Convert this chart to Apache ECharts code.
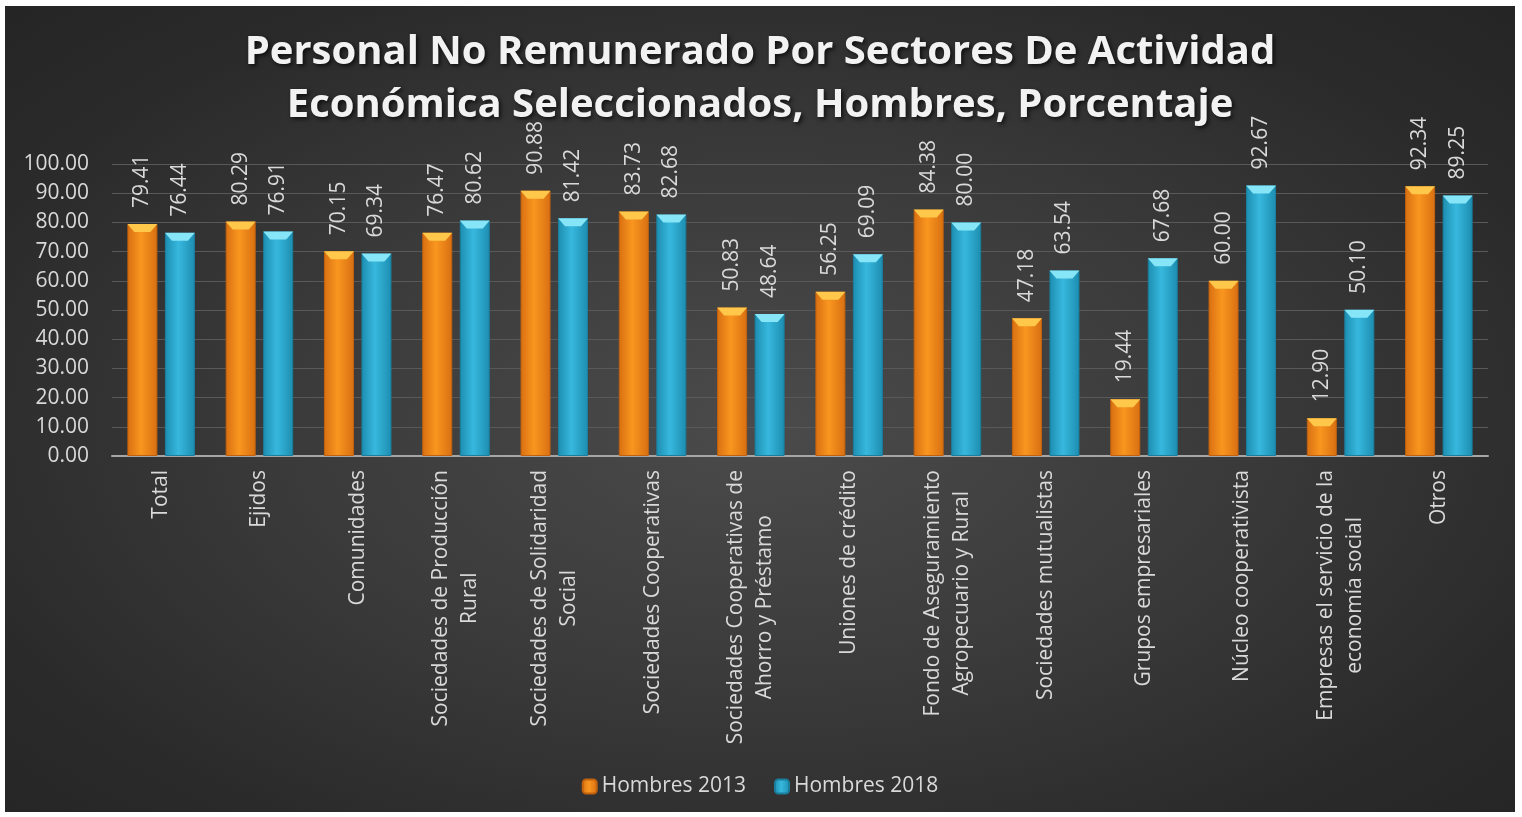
<!DOCTYPE html>
<html lang="es">
<head>
    <meta charset="UTF-8">
    <title>Personal No Remunerado - Hombres</title>
    <script src="https://cdn.jsdelivr.net/npm/echarts@6/dist/echarts.min.js"></script>
    <style>
        html, body { margin: 0; padding: 0; background: #ffffff; }
        #chart {
            position: absolute;
            left: 5px;
            top: 6px;
            width: 1510px;
            height: 806px;
            background: radial-gradient(ellipse at 50% 52%, #4b4b4b 0%, #3a3a3a 45%, #2a2a2a 80%, #252525 100%);
        }
    </style>
</head>
<body>
<div id="chart"></div>
<script type="text/javascript">

    // data
    let categories = ['Total', 'Ejidos', 'Comunidades', 'Sociedades de Producción\nRural',
        'Sociedades de Solidaridad\nSocial', 'Sociedades Cooperativas',
        'Sociedades Cooperativas de\nAhorro y Préstamo', 'Uniones de crédito',
        'Fondo de Aseguramiento\nAgropecuario y Rural', 'Sociedades mutualistas',
        'Grupos empresariales', 'Núcleo cooperativista',
        'Empresas el servicio de la\neconomía social', 'Otros'];
    let hombres2013 = [79.41, 80.29, 70.15, 76.47, 90.88, 83.73, 50.83, 56.25, 84.38, 47.18, 19.44, 60.00, 12.90, 92.34];
    let hombres2018 = [76.44, 76.91, 69.34, 80.62, 81.42, 82.68, 48.64, 69.09, 80.00, 63.54, 67.68, 92.67, 50.10, 89.25];
    let seriesNames = ['Hombres 2013', 'Hombres 2018'];

    let chart = echarts.init(document.getElementById('chart'));

    // horizontal gradient to fake the cylinder look of the excel bars
    function barGradient(edge, mid) {
        return new echarts.graphic.LinearGradient(0, 0, 1, 0, [
            {offset: 0, color: edge},
            {offset: 0.45, color: mid},
            {offset: 1, color: edge}
        ]);
    }

    let labelFont = '"Open Sans", "DejaVu Sans", sans-serif';

    let barLabel = {
        show: true,
        position: 'top',
        rotate: 90,
        align: 'left',
        verticalAlign: 'middle',
        distance: 16,
        color: '#d9d9d9',
        fontSize: 21,
        fontFamily: labelFont,
        formatter: (p) => p.value.toFixed(2)
    };

    // the light bevel on the top of each bar
    let bevel = 'path://M0,0 L30,0 L23,8 L7,8 Z';

    let option = {
        animation: false,
        title: {
            text: 'Personal No Remunerado Por Sectores De Actividad\nEconómica Seleccionados, Hombres, Porcentaje',
            left: 'center',
            top: 20,
            padding: 0,
            textStyle: {
                color: '#f2f2f2',
                fontSize: 40,
                fontWeight: 'bold',
                fontFamily: labelFont,
                lineHeight: 53,
                textShadowColor: 'rgba(0,0,0,0.7)',
                textShadowBlur: 4,
                textShadowOffsetX: 2,
                textShadowOffsetY: 2
            }
        },
        legend: {
            data: seriesNames,
            left: 'center',
            top: 765,
            itemWidth: 14,
            itemHeight: 14,
            itemGap: 28,
            textStyle: {
                color: '#d9d9d9',
                fontSize: 21,
                fontFamily: labelFont
            }
        },
        grid: {
            left: 107,
            right: 27,
            top: 158,
            bottom: 356
        },
        xAxis: {
            type: 'category',
            data: categories,
            axisTick: {show: false},
            axisLine: {lineStyle: {color: '#a6a6a6', width: 2}},
            axisLabel: {
                interval: 0,
                rotate: 90,
                margin: 14,
                color: '#d9d9d9',
                fontSize: 21,
                fontFamily: labelFont,
                formatter: (value) => value.split('\n').map(s => '{c|' + s + '}').join('\n'),
                rich: {
                    c: {
                        align: 'center',
                        color: '#d9d9d9',
                        fontSize: 21,
                        fontFamily: labelFont,
                        lineHeight: 29
                    }
                }
            }
        },
        yAxis: {
            type: 'value',
            min: 0,
            max: 100,
            interval: 10,
            axisLine: {show: false},
            axisTick: {show: false},
            splitLine: {lineStyle: {color: '#595959', width: 1}},
            axisLabel: {
                margin: 23,
                color: '#d9d9d9',
                fontSize: 21,
                fontFamily: labelFont,
                formatter: (v) => v.toFixed(2)
            }
        },
        series: [
            {
                name: seriesNames[0],
                type: 'bar',
                data: hombres2013,
                barWidth: 30,
                barGap: '25%',
                itemStyle: {
                    color: barGradient('#d86f12', '#f9961f'),
                    borderColor: '#c2620f',
                    borderWidth: 1
                },
                label: barLabel
            },
            {
                name: seriesNames[1],
                type: 'bar',
                data: hombres2018,
                barWidth: 30,
                barGap: '25%',
                itemStyle: {
                    color: barGradient('#1c8db0', '#38b8de'),
                    borderColor: '#1a7f9e',
                    borderWidth: 1
                },
                label: barLabel
            },
            {
                name: 'bevel2013',
                type: 'pictorialBar',
                data: hombres2013,
                barWidth: 30,
                barGap: '25%',
                symbol: bevel,
                symbolSize: [30, 8],
                symbolPosition: 'end',
                symbolOffset: [0, 0],
                itemStyle: {color: '#ffc84a'},
                silent: true,
                z: 3
            },
            {
                name: 'bevel2018',
                type: 'pictorialBar',
                data: hombres2018,
                barWidth: 30,
                barGap: '25%',
                symbol: bevel,
                symbolSize: [30, 8],
                symbolPosition: 'end',
                symbolOffset: [0, 0],
                itemStyle: {color: '#86e6f8'},
                silent: true,
                z: 3
            }
        ]
    };

    chart.setOption(option);

</script>
</body>
</html>
